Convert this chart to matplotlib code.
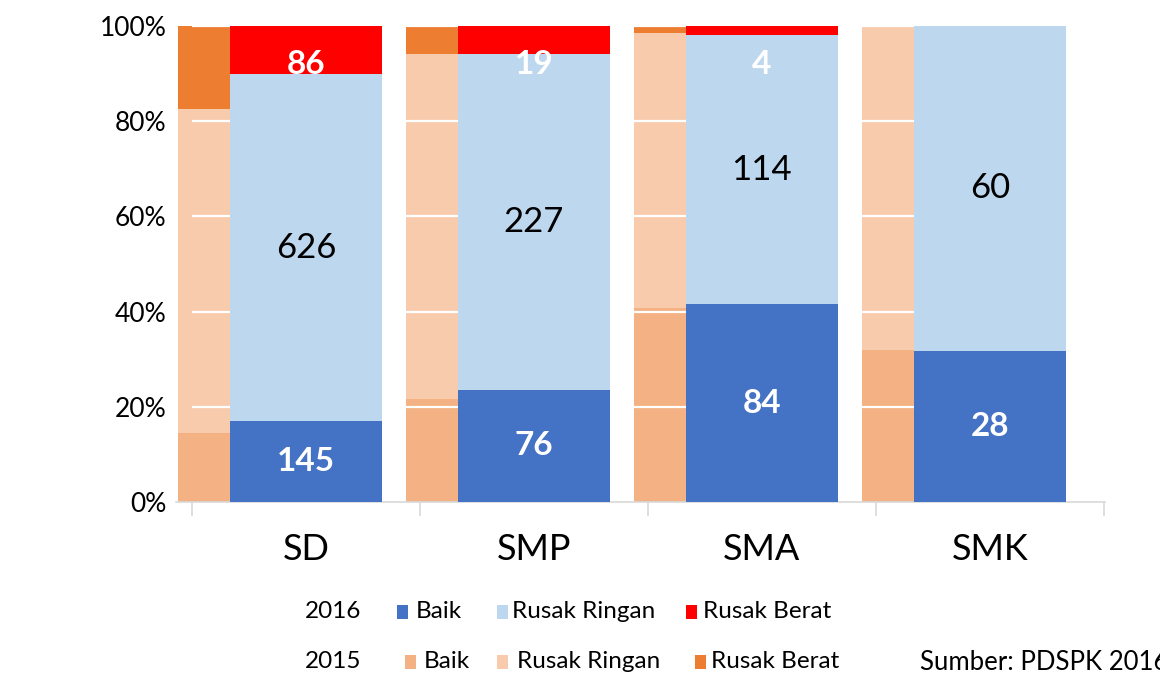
import numpy as np
import matplotlib.pyplot as plt
from matplotlib.patches import Rectangle

plt.rcParams['font.family'] = ['Lato', 'DejaVu Sans']

# ── Data ────────────────────────────────────────────────────────────────────
categories = ["SD", "SMP", "SMA", "SMK"]
conditions = ["Baik", "Rusak Ringan", "Rusak Berat"]

# 2016: jumlah sekolah (labels on bars)
baik_2016 = np.array([145, 76, 84, 28])
ringan_2016 = np.array([626, 227, 114, 60])
berat_2016 = np.array([86, 19, 4, 0])

# 2015: shares in percent (no labels)
baik_2015 = np.array([14.5, 21.6, 40.8, 31.9])
ringan_2015 = np.array([68.1, 72.5, 57.7, 68.1])
berat_2015 = np.array([17.4, 5.9, 1.5, 0.0])

colors_2016 = ["#4472C4", "#BDD7EE", "#FF0000"]
colors_2015 = ["#F4B183", "#F8CBAD", "#ED7D31"]
source_text = "Sumber: PDSPK 2016"

# ── Derived shares ──────────────────────────────────────────────────────────
total_2016 = baik_2016 + ringan_2016 + berat_2016
pct_2016 = [baik_2016 / total_2016 * 100,
            ringan_2016 / total_2016 * 100,
            berat_2016 / total_2016 * 100]
pct_2015 = [baik_2015, ringan_2015, berat_2015]
counts_2016 = [baik_2016, ringan_2016, berat_2016]

# ── Figure ──────────────────────────────────────────────────────────────────
W, H = 1160, 678
fig = plt.figure(figsize=(W / 100, H / 100), dpi=100)
ax = fig.add_axes([176 / W, 176 / H, 929 / W, 476 / H])

x = np.arange(len(categories))

# 2015 bars (behind)
bottom = np.zeros(len(categories))
for vals, col in zip(pct_2015, colors_2015):
    ax.bar(x - 0.56, vals, width=0.675, bottom=bottom, align="edge",
           color=col, linewidth=0, zorder=1, clip_on=False)
    bottom += vals

# white gridlines over 2015 bars
for g in [20, 40, 60, 80, 100]:
    ax.hlines(g, -0.5, 3.5, color="white", linewidth=1.6, zorder=2)

# 2016 bars (front)
bottom = np.zeros(len(categories))
for k, (vals, col) in enumerate(zip(pct_2016, colors_2016)):
    ax.bar(x, vals, width=0.667, bottom=bottom, color=col,
           linewidth=0, zorder=3)
    for i in range(len(categories)):
        n = counts_2016[k][i]
        if n == 0:
            continue
        if k == 0:
            ax.text(x[i], bottom[i] + vals[i] / 2, str(n), ha="center",
                    va="center", color="white", fontsize=24,
                    fontweight="bold", zorder=5)
        elif k == 1:
            ax.text(x[i], bottom[i] + vals[i] / 2, str(n), ha="center",
                    va="center", color="black", fontsize=25, zorder=5)
        else:
            ax.text(x[i], 92.0, str(n), ha="center", va="center",
                    color="white", fontsize=24, fontweight="bold", zorder=5)
    bottom += vals

# ── Axes styling ────────────────────────────────────────────────────────────
ax.set_xlim(-0.57, 3.505)
ax.set_ylim(0, 100)
ax.set_yticks([0, 20, 40, 60, 80, 100])
ax.set_yticklabels([f"{v}%" for v in [0, 20, 40, 60, 80, 100]], fontsize=19)
ax.tick_params(axis="y", length=0, pad=7)

ax.set_xticks(np.arange(-0.5, 4, 1.0))
ax.set_xticklabels([])
ax.tick_params(axis="x", which="major", length=10, color="#D9D9D9", width=1.2)
ax.set_xticks(x, minor=True)
ax.set_xticklabels(categories, minor=True, fontsize=26)
ax.tick_params(axis="x", which="minor", length=0, pad=22)

for s in ["top", "right", "left"]:
    ax.spines[s].set_visible(False)
ax.spines["bottom"].set_color("#D9D9D9")
ax.spines["bottom"].set_linewidth(1.2)

# ── Legend rows (manual, like the source) ───────────────────────────────────
def legend_row(year, y_px, sq_x, txt_x, colors):
    fig.text(305 / W, 1 - y_px / H, year, fontsize=17.5, va="center", ha="left")
    for sx, tx, col, lab in zip(sq_x, txt_x, colors, conditions):
        fig.add_artist(Rectangle((sx / W, 1 - (y_px + 7) / H), 11 / W, 14 / H,
                                 transform=fig.transFigure, color=col,
                                 linewidth=0))
        fig.text(tx / W, 1 - y_px / H, lab, fontsize=17.5, va="center",
                 ha="left")

legend_row("2016", 612, [397, 497, 686], [416, 512, 703], colors_2016)
legend_row("2015", 662, [405, 497, 695], [424, 517, 711], colors_2015)
fig.text(920 / W, 1 - 662 / H, source_text, fontsize=18.5, va="center",
         ha="left")

fig.savefig("out.png", dpi=100)
